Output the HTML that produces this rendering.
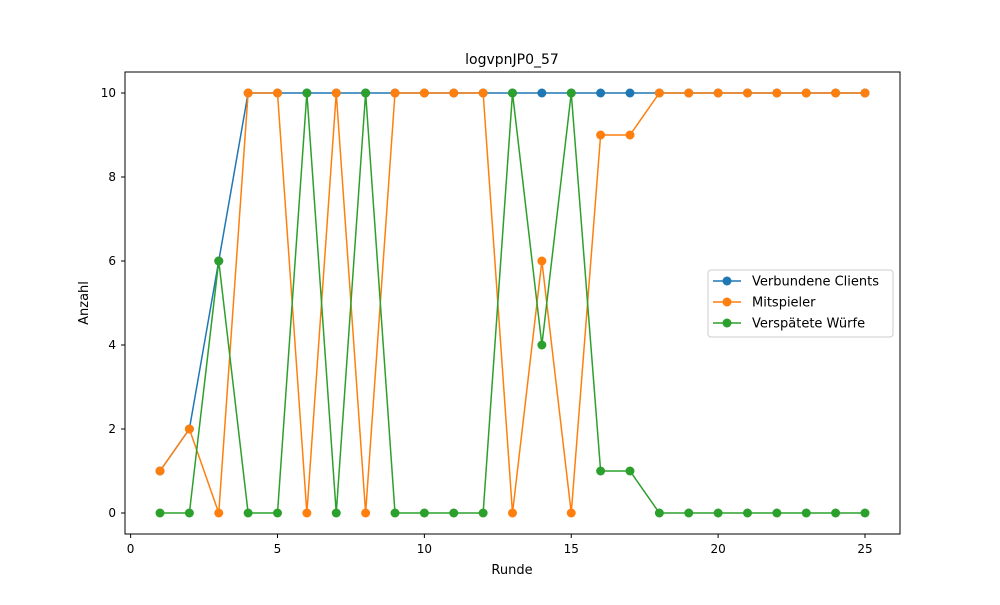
<!DOCTYPE html>
<html><head><meta charset="utf-8"><style>
body{margin:0;background:#fff;font-family:"Liberation Sans","DejaVu Sans",sans-serif}
</style></head><body>
<svg width="1000" height="600" viewBox="0 0 1000 600" font-family="DejaVu Sans, Liberation Sans, sans-serif">
<rect width="1000" height="600" fill="#fff"/>
<g id="plot"></g>
<rect x="125" y="72" width="775" height="462" fill="none" stroke="#000" stroke-width="1"/>
<text x="512" y="64" text-anchor="middle" font-size="14">logvpnJP0_57</text>
<text x="512" y="574" text-anchor="middle" font-size="13">Runde</text>
<text x="88" y="303" text-anchor="middle" font-size="13" transform="rotate(-90 88 303)">Anzahl</text>
<g>
<rect x="708" y="270" width="185" height="67" rx="3" fill="#fff" fill-opacity="0.8" stroke="#ccc"/>
<g id="legend"></g>
</g>
</svg>
<script>
const rounds=[1,2,3,4,5,6,7,8,9,10,11,12,13,14,15,16,17,18,19,20,21,22,23,24,25];
const clients=[1,2,6,10,10,10,10,10,10,10,10,10,10,10,10,10,10,10,10,10,10,10,10,10,10];
const players=[1,2,0,10,10,0,10,0,10,10,10,10,0,6,0,9,9,10,10,10,10,10,10,10,10];
const late=[0,0,6,0,0,10,0,10,0,0,0,0,10,4,10,1,1,0,0,0,0,0,0,0,0];
const xTicks=[0,5,10,15,20,25];
const yTicks=[0,2,4,6,8,10];
const names=["Verbundene Clients","Mitspieler","Verspätete Würfe"];
const colors=["#1f77b4","#ff7f0e","#2ca02c"];
const NS="http://www.w3.org/2000/svg";
const X=v=>130.625+(v)*29.375;
const Y=v=>513-v*42;
const g=document.getElementById('plot');
function mk(t,a,p){const e=document.createElementNS(NS,t);for(const k in a)e.setAttribute(k,a[k]);(p||g).appendChild(e);return e;}
xTicks.forEach(t=>{
 const l=mk('line',{x1:X(t),x2:X(t),y1:534,y2:538,stroke:'#000'});
 
 
 const tx=mk('text',{x:X(t),y:553,'text-anchor':'middle','font-size':12});tx.textContent=t;
 
 
});
yTicks.forEach(t=>{
 const l=mk('line',{x1:121,x2:125,y1:Y(t),y2:Y(t),stroke:'#000'});
 
 
 const tx=mk('text',{x:116,y:Y(t)+4,'text-anchor':'end','font-size':12});tx.textContent=t;
 
 
});
[clients,players,late].forEach((s,i)=>{
 const pl=mk('polyline',{points:s.map((v,j)=>X(rounds[j])+','+Y(v)).join(' '),fill:'none',stroke:colors[i],'stroke-width':1.5});
 
 
 s.forEach((v,j)=>{
  const c=mk('circle',{cx:X(rounds[j]),cy:Y(v),r:4.5,fill:colors[i]});
  
  
 });
});
const lg=document.getElementById('legend');
names.forEach((n,i)=>{
 const y=281+i*21;
 const l=mk('line',{x1:713,x2:741,y1:y,y2:y,stroke:colors[i],'stroke-width':1.5},lg);
 
 
 const c=mk('circle',{cx:727,cy:y,r:4.5,fill:colors[i]},lg);
 
 
 const t=mk('text',{x:752,y:y+4.5,'font-size':13},lg);t.textContent=n;
 
 
});
</script>
</body></html>
